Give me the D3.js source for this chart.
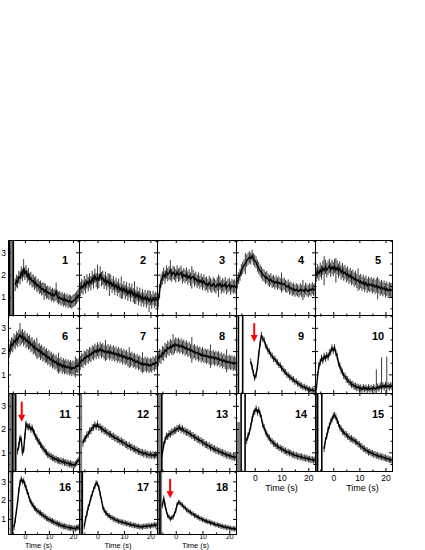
<!DOCTYPE html>
<html><head><meta charset="utf-8">
<script src="https://cdn.jsdelivr.net/npm/d3@7"></script>
<style>body{margin:0;background:#fff}svg{display:block}</style>
</head><body>
<svg id="chart" width="425" height="550"></svg>
<script>
// ---------------- DATA ----------------
const panelIds = [1,2,3,4,5,6,7,8,9,10,11,12,13,14,15,16,17,18];
const binWidth = 0.5; // s
const startTimes = [-4,-6.5,-6.5,-6.5,-6.5,-6.5,-6.5,-6.5,-1.5,-6.5,-3,-5.5,-5,-3,-3.5,-4.5,-5,-5];
const errSizes = [0.28,0.32,0.3,0.27,0.32,0.3,0.3,0.3,0.13,0.15,0.14,0.15,0.15,0.14,0.14,0.15,0.14,0.13];

const p1 = [1.55,1.72,1.66,1.9,1.85,2.1,1.98,2.3,2.05,2.15,1.92,2.02,1.8,1.85,1.7,1.74,1.6,1.66,1.5,1.55,1.42,1.46,1.35,1.38,1.25,1.32,1.2,1.24,1.15,1.2,1.08,1.14,1.05,1.1,1.25,1.02,0.95,1.0,0.9,0.95,0.85,0.92,0.82,0.88,0.78,0.84,0.8,0.76,0.82,0.86,0.9,0.98,1.05,1.12];
const p2 = [1.35,1.5,1.42,1.62,1.48,1.7,1.58,1.75,1.62,1.85,1.7,1.95,1.76,1.9,1.72,2.05,1.8,1.86,1.68,1.82,1.62,1.75,1.55,1.68,1.5,1.62,1.42,1.55,1.36,1.5,1.3,1.42,1.25,1.4,1.22,1.35,1.15,1.3,1.12,1.28,1.08,1.2,1.0,1.15,0.95,1.1,0.9,1.05,0.88,1.0,0.85,0.98,0.82,0.95,0.8,0.96,0.84,0.92,0.86];
const p3 = [0.85,1.3,1.72,1.85,2.02,1.9,2.12,2.0,2.08,2.2,1.98,2.1,2.05,1.95,2.12,1.98,2.02,2.1,1.9,2.0,1.92,2.02,1.85,1.95,1.8,1.88,1.92,1.76,1.84,1.7,1.8,1.66,1.75,1.6,1.72,1.58,1.62,1.5,1.65,1.55,1.48,1.6,1.52,1.45,1.58,1.5,1.62,1.45,1.55,1.48,1.6,1.42,1.5,1.56,1.4,1.52,1.45,1.5,1.42];
const p4 = [1.65,1.85,2.0,2.2,2.3,2.42,2.5,2.62,2.7,2.78,2.72,2.85,2.7,2.62,2.55,2.4,2.3,2.18,2.1,2.0,1.95,1.85,1.9,1.78,1.72,1.8,1.68,1.72,1.62,1.7,1.6,1.66,1.58,1.65,1.55,1.6,1.5,1.45,1.52,1.38,1.42,1.32,1.38,1.28,1.35,1.3,1.25,1.35,1.28,1.32,1.25,1.38,1.3,1.26,1.35,1.3,1.4,1.32,1.36];
const p5 = [2.0,2.15,2.05,2.22,2.1,2.3,2.18,2.35,2.2,2.3,2.4,2.22,2.35,2.25,2.38,2.2,2.32,2.18,2.28,2.1,2.2,2.05,2.12,1.98,2.05,1.9,1.98,1.85,1.9,1.78,1.85,1.72,1.78,1.65,1.72,1.6,1.68,1.55,1.65,1.5,1.6,1.52,1.58,1.48,1.55,1.45,1.52,1.4,1.48,1.38,1.45,1.35,1.42,1.3,1.38,1.28,1.35,1.3,1.32];
const p6 = [2.0,2.15,2.3,2.25,2.45,2.38,2.55,2.48,2.62,2.7,2.58,2.65,2.5,2.58,2.42,2.48,2.35,2.4,2.25,2.3,2.15,2.2,2.08,2.12,2.0,2.05,1.92,1.98,1.85,1.9,1.78,1.82,1.7,1.75,1.62,1.68,1.55,1.6,1.5,1.55,1.42,1.48,1.38,1.45,1.32,1.4,1.3,1.36,1.28,1.34,1.25,1.32,1.22,1.3,1.25,1.32,1.38,1.35,1.42];
const p7 = [1.5,1.62,1.58,1.72,1.68,1.8,1.75,1.88,1.82,1.95,1.9,2.02,1.95,2.08,1.98,2.1,2.0,2.05,1.95,2.02,1.92,2.0,1.9,1.98,1.88,1.95,1.85,1.9,1.8,1.88,1.78,1.84,1.72,1.8,1.7,1.76,1.65,1.72,1.62,1.68,1.58,1.62,1.52,1.58,1.48,1.52,1.42,1.5,1.4,1.46,1.38,1.45,1.36,1.42,1.38,1.48,1.42,1.52,1.5];
const p8 = [1.65,1.8,1.75,1.92,1.88,2.05,2.0,2.15,2.1,2.22,2.15,2.28,2.2,2.3,2.22,2.28,2.18,2.25,2.15,2.2,2.1,2.16,2.05,2.1,2.0,2.05,1.95,2.0,1.9,1.95,1.85,1.9,1.8,1.88,1.78,1.82,1.75,1.8,1.72,1.78,1.7,1.75,1.66,1.72,1.65,1.7,1.6,1.65,1.55,1.62,1.52,1.58,1.5,1.55,1.48,1.52,1.45,1.5,1.45];
const p9 = [1.55,1.32,1.05,0.85,0.97,1.33,1.88,2.32,2.7,2.52,2.48,2.25,2.18,2.0,1.98,1.84,1.8,1.66,1.68,1.55,1.52,1.4,1.4,1.26,1.24,1.12,1.1,0.98,0.97,0.88,0.87,0.78,0.79,0.68,0.7,0.6,0.6,0.53,0.52,0.45,0.47,0.4,0.42,0.34,0.37,0.3,0.34,0.29,0.32];
const p10 = [0.35,0.95,1.38,1.52,1.7,1.6,1.78,1.68,1.82,1.74,1.92,1.96,2.14,2.02,2.15,1.92,1.78,1.48,1.38,1.18,1.1,0.95,0.92,0.8,0.77,0.68,0.64,0.56,0.57,0.48,0.5,0.43,0.46,0.4,0.42,0.36,0.44,0.37,0.42,0.35,0.43,0.36,0.41,0.35,0.44,0.37,0.41,0.46,0.4,0.5,0.43,0.52,0.45,0.54,0.46,0.51,0.45,0.53,0.47];
const p11 = [1.05,1.3,1.62,1.55,1.0,1.1,1.7,2.22,2.12,2.08,2.12,1.98,2.06,1.9,1.82,1.68,1.62,1.48,1.44,1.33,1.27,1.18,1.12,1.03,1.0,0.9,0.9,0.83,0.82,0.76,0.77,0.7,0.72,0.66,0.66,0.62,0.64,0.58,0.63,0.55,0.57,0.53,0.54,0.48,0.53,0.46,0.48,0.44,0.5,0.55,0.63,0.68];
const p12 = [1.4,1.57,1.6,1.75,1.78,1.92,1.93,2.06,2.08,2.18,2.1,2.22,2.08,2.1,1.99,2.01,1.92,1.93,1.85,1.84,1.77,1.78,1.68,1.7,1.62,1.62,1.55,1.56,1.47,1.5,1.42,1.42,1.35,1.34,1.27,1.3,1.22,1.22,1.15,1.16,1.09,1.1,1.03,1.04,0.98,1.0,0.93,0.98,0.9,0.93,0.87,0.92,0.86,0.9,0.84,0.91,0.87];
const p13 = [0.95,1.32,1.52,1.7,1.68,1.8,1.79,1.87,1.88,1.95,1.94,2.03,2.02,2.08,1.97,2.02,1.93,1.92,1.86,1.87,1.8,1.8,1.72,1.72,1.64,1.65,1.56,1.57,1.5,1.5,1.42,1.42,1.34,1.34,1.28,1.28,1.2,1.22,1.14,1.16,1.08,1.1,1.04,1.05,0.98,1.0,0.93,0.94,0.87,0.9,0.84,0.86,0.8,0.82,0.78,0.8];
const p14 = [1.5,1.72,1.86,2.12,2.42,2.68,2.75,2.88,2.72,2.82,2.65,2.47,2.18,2.07,1.88,1.8,1.66,1.62,1.5,1.47,1.38,1.37,1.28,1.28,1.2,1.2,1.13,1.14,1.06,1.07,1.0,1.02,0.96,0.98,0.9,0.92,0.86,0.88,0.82,0.84,0.8,0.82,0.76,0.78,0.73,0.76,0.7,0.72,0.68,0.7,0.65,0.69];
const p15 = [1.15,1.52,1.7,1.97,2.13,2.32,2.4,2.57,2.6,2.52,2.36,2.22,2.08,2.02,1.9,1.87,1.78,1.77,1.68,1.67,1.58,1.6,1.53,1.52,1.46,1.44,1.36,1.34,1.26,1.24,1.16,1.16,1.08,1.08,1.0,1.02,0.96,0.97,0.9,0.92,0.86,0.88,0.82,0.84,0.8,0.8,0.76,0.77,0.72,0.73,0.68,0.69,0.65];
const p16 = [0.55,0.95,1.42,1.93,2.52,2.93,3.12,2.98,3.04,2.83,2.67,2.43,2.27,2.03,1.92,1.78,1.7,1.58,1.54,1.43,1.42,1.33,1.32,1.23,1.22,1.13,1.12,1.03,1.02,0.96,0.96,0.88,0.9,0.82,0.82,0.76,0.77,0.7,0.72,0.64,0.66,0.6,0.62,0.58,0.58,0.53,0.56,0.51,0.54,0.48,0.52,0.47,0.53,0.55,0.58];
const p17 = [0.6,1.02,1.28,1.62,1.83,2.12,2.33,2.57,2.73,2.92,2.86,2.67,2.33,2.02,1.63,1.47,1.33,1.3,1.18,1.17,1.08,1.07,1.0,0.99,0.93,0.93,0.86,0.88,0.82,0.84,0.78,0.8,0.74,0.76,0.7,0.72,0.66,0.68,0.63,0.66,0.6,0.62,0.58,0.6,0.56,0.62,0.6,0.63,0.61,0.66,0.6,0.67,0.64,0.7,0.66,0.69];
const p18 = [1.7,2.12,1.73,1.42,1.18,1.1,1.0,1.07,1.1,1.27,1.43,1.77,1.88,1.87,1.78,1.74,1.63,1.6,1.48,1.47,1.38,1.37,1.28,1.27,1.18,1.18,1.1,1.1,1.02,1.02,0.95,0.96,0.88,0.9,0.84,0.85,0.78,0.8,0.74,0.75,0.68,0.7,0.65,0.66,0.6,0.62,0.56,0.59,0.53,0.56,0.5,0.52,0.47,0.5,0.46,0.48];
const seriesValues = [p1,p2,p3,p4,p5,p6,p7,p8,p9,p10,p11,p12,p13,p14,p15,p16,p17,p18];

// large error bars at single bins: [panel, time, error]
const bigErrors = [[10,16.5,0.8],[10,18.5,1.3],[10,20.5,1.3],[2,0,0.55],[5,-3.5,0.65],[8,6,0.55],[1,-0.5,0.4],[3,-2,0.45],[7,12,0.45],[6,-2,0.5],
  [1,8,0.38],[1,13,0.4],[2,4.5,0.5],[2,9,0.5],[2,14,0.5],[2,19.5,0.48],[3,6,0.5],[3,16,0.5],[4,-3.5,0.48],[4,10,0.45],[4,18,0.45],
  [5,1,0.55],[5,9.5,0.5],[5,17,0.5],[6,5,0.45],[6,14,0.45],[6,21,0.45],[7,3,0.45],[7,17,0.45],[8,-1,0.45],[8,13,0.5],[8,19,0.5]];
// off-scale early bins drawn as grey bands: [panel, tStart, tEnd, vTop]
const bands = [[1,-6.6,-4.5,3.6],[11,-7,-4.1,3.6],[12,-7,-5.8,3.6],[13,-7,-5.1,3.6],[14,-7,-5.5,2.3],[15,-7,-5.6,3.6],[16,-6.3,-4.8,3.6],[17,-7,-5.4,3.6],[18,-7,-5.1,3.6]];
// off-scale single bins (full-height black bars): [panel, time]
const spikes = [[1,-6.4],[1,-4.8],[9,-6.1],[9,-4.5],[11,-5.1],[11,-3.8],[13,-5.2],[14,-5.1],[14,-3.6],[15,-6.1],[15,-4.4],[16,-5.2],[17,-5.8],[18,-5.9]];
// red arrows: [panel, time, vStart, vTip]
const arrows = [[9,-0.2,3.2,2.39],[11,-1.3,3.18,2.32],[18,-2.1,3.13,2.1]];

const xMajorTicks = [0,10,20];
const xMinorTicks = [-5,5,15];
const yMajorTicks = [1,2,3];
const yMinorTicks = [0.5,1.5,2.5,3.5];
const xTitle = "Time (s)";
const labelledPanels = [14,15,16,17,18];

// ---------------- LAYOUT ----------------
const svg = d3.select("#chart");
const colEdges = [8, 79, 157, 236, 315, 392];
const rowEdges = [240, 315, 393, 471, 534];
const xDomain = [-7, 22.5];
const yDomain = [0.2, 3.55];
const titleShift = {14: 6, 15: 9, 16: -5, 17: 0, 18: -1};
const font = "'Liberation Sans', Arial, Helvetica, sans-serif";
const defs = svg.append("defs");

panelIds.forEach((id, k) => {
  const r = Math.floor(k / 5), c = k % 5;
  const x0 = colEdges[c], x1 = colEdges[c + 1], y0 = rowEdges[r], y1 = rowEdges[r + 1];
  const x = d3.scaleLinear().domain(xDomain).range([x0, x1]);
  const y = d3.scaleLinear().domain(yDomain).range([y1, y0]);
  const g = svg.append("g");
  const clipId = "clip" + id;
  defs.append("clipPath").attr("id", clipId).append("rect")
    .attr("x", x0).attr("y", y0).attr("width", x1 - x0).attr("height", y1 - y0);
  const plot = g.append("g").attr("clip-path", `url(#${clipId})`);

  bands.filter(b => b[0] === id).forEach(b => {
    plot.append("rect").attr("x", x(b[1])).attr("width", x(b[2]) - x(b[1]))
      .attr("y", y(b[3])).attr("height", y1 - y(b[3])).attr("fill", "#808080");
  });

  const pts = seriesValues[k].map((v, i) => {
    const t = startTimes[k] + i * binWidth;
    const be = bigErrors.find(e => e[0] === id && Math.abs(e[1] - t) < 0.01);
    return { t, v, e: be ? be[2] : errSizes[k] };
  });
  plot.append("g").selectAll("line").data(pts).join("line")
    .attr("x1", d => x(d.t)).attr("x2", d => x(d.t))
    .attr("y1", d => y(d.v - d.e)).attr("y2", d => y(d.v + d.e))
    .attr("stroke", "#3a3a3a").attr("stroke-width", 1);
  plot.append("path").datum(pts)
    .attr("d", d3.line().x(d => x(d.t)).y(d => y(d.v)))
    .attr("fill", "none").attr("stroke", "#000").attr("stroke-width", 1.4);

  spikes.filter(s => s[0] === id).forEach(s => {
    plot.append("line").attr("x1", x(s[1])).attr("x2", x(s[1]))
      .attr("y1", y0).attr("y2", y1).attr("stroke", "#000").attr("stroke-width", 1.6);
  });

  // axes (ticks inward on all four sides)
  const styleAxis = sel => {
    sel.select(".domain").remove();
    sel.attr("font-family", font).attr("font-size", r === 3 ? 7 : 8.5).attr("fill", "#000");
    sel.selectAll("line").attr("stroke", "#000");
  };
  const labelled = labelledPanels.includes(id);
  g.append("g").attr("transform", `translate(0,${y1})`)
    .call(d3.axisBottom(x).tickValues(xMajorTicks).tickSize(-3).tickPadding(r === 3 ? 0.5 : 4)
      .tickFormat(labelled ? d3.format("d") : () => ""))
    .call(styleAxis);
  g.append("g").attr("transform", `translate(0,${y1})`)
    .call(d3.axisBottom(x).tickValues(xMinorTicks).tickSize(-1.5).tickFormat(() => "")).call(styleAxis);
  g.append("g").attr("transform", `translate(0,${y0})`)
    .call(d3.axisTop(x).tickValues(xMajorTicks).tickSize(-3).tickFormat(() => "")).call(styleAxis);
  g.append("g").attr("transform", `translate(0,${y0})`)
    .call(d3.axisTop(x).tickValues(xMinorTicks).tickSize(-1.5).tickFormat(() => "")).call(styleAxis);
  g.append("g").attr("transform", `translate(${x0},0)`)
    .call(d3.axisLeft(y).tickValues(yMajorTicks).tickSize(-3).tickPadding(2)
      .tickFormat(c === 0 ? d3.format("d") : () => ""))
    .call(styleAxis)
    .attr("font-size", 8.5);
  g.append("g").attr("transform", `translate(${x0},0)`)
    .call(d3.axisLeft(y).tickValues(yMinorTicks).tickSize(-1.5).tickFormat(() => "")).call(styleAxis);
  g.append("g").attr("transform", `translate(${x1},0)`)
    .call(d3.axisRight(y).tickValues(yMajorTicks).tickSize(-3).tickFormat(() => "")).call(styleAxis);
  g.append("g").attr("transform", `translate(${x1},0)`)
    .call(d3.axisRight(y).tickValues(yMinorTicks).tickSize(-1.5).tickFormat(() => "")).call(styleAxis);

  // frame
  g.append("rect").attr("x", x0 + 0.5).attr("y", y0 + 0.5)
    .attr("width", x1 - x0).attr("height", y1 - y0)
    .attr("fill", "none").attr("stroke", "#000").attr("stroke-width", 1);

  // panel number
  g.append("text").attr("x", x1 - 14).attr("y", y0 + 0.32 * (y1 - y0))
    .attr("text-anchor", "middle").attr("font-family", font)
    .attr("font-weight", "bold").attr("font-size", 11).text(String(id));

  if (labelled) {
    g.append("text").attr("x", (x0 + x1) / 2 + titleShift[id]).attr("y", r === 3 ? 548.2 : y1 + 19.5)
      .attr("text-anchor", "middle").attr("font-family", font)
      .attr("font-size", r === 3 ? 7.5 : 9).text(xTitle);
  }

  arrows.filter(a => a[0] === id).forEach(a => {
    const ax = x(a[1]), ys = y(a[2]), yt = y(a[3]);
    g.append("line").attr("x1", ax).attr("x2", ax).attr("y1", ys).attr("y2", yt - 6)
      .attr("stroke", "#f00").attr("stroke-width", 2);
    g.append("path").attr("d", `M${ax - 3.5},${yt - 7}L${ax + 3.5},${yt - 7}L${ax},${yt}Z`)
      .attr("fill", "#f00");
  });
});
</script>
</body></html>
